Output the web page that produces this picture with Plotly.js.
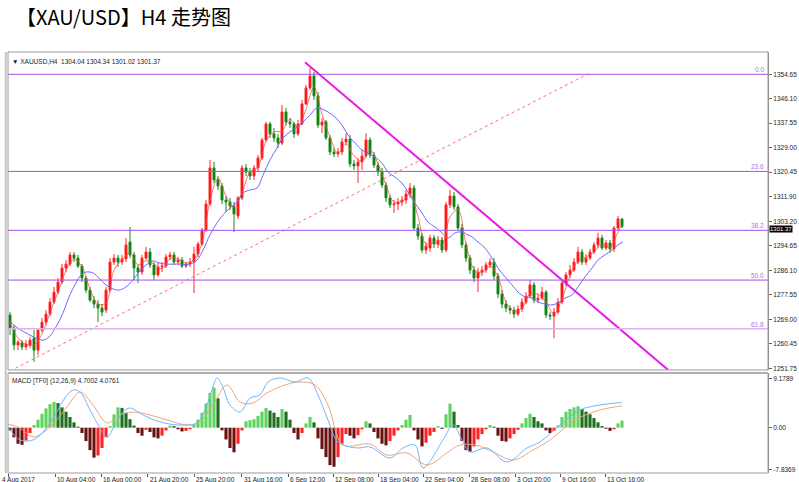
<!DOCTYPE html>
<html><head><meta charset="utf-8">
<script src="https://cdn.plot.ly/plotly-3.0.1.min.js"></script>
<style>html,body{margin:0;padding:0;background:#fff;} #chart{width:799px;height:482px;}</style>
</head><body><div id="chart"></div>
<script>
// ---- H4 candles (each drawn bar ~ one read-off slot of the reference) ----
const opens = [1270.5,1265.9,1260.0,1260.7,1259.3,1260.0,1262.4,1258.2,1265.2,1268.0,1270.8,1275.0,1278.5,1282.0,1286.9,1288.3,1291.5,1290.4,1287.6,1283.4,1279.2,1275.7,1274.3,1272.9,1272.2,1279.2,1289.0,1290.4,1289.0,1290.1,1296.0,1291.5,1286.9,1285.5,1290.4,1292.5,1288.0,1284.5,1287.3,1287.6,1290.8,1291.5,1289.0,1289.7,1287.6,1288.3,1289.0,1291.8,1295.3,1300.2,1309.3,1321.9,1317.7,1315.6,1310.7,1310.0,1308.6,1305.1,1311.4,1321.9,1320.5,1319.1,1321.9,1325.4,1331.7,1337.3,1333.8,1332.4,1330.6,1341.5,1338.0,1337.3,1333.8,1337.3,1344.3,1349.9,1354.1,1347.1,1336.9,1338.0,1332.4,1327.5,1326.8,1327.5,1331.0,1332.0,1323.3,1322.6,1324.0,1326.1,1331.7,1326.4,1322.9,1320.5,1315.9,1311.4,1309.0,1309.3,1310.0,1310.7,1312.8,1314.9,1300.9,1298.1,1293.2,1293.9,1297.4,1295.3,1296.7,1293.2,1309.0,1312.1,1308.3,1300.9,1295.0,1290.4,1286.2,1283.4,1285.5,1286.2,1288.0,1289.0,1284.1,1277.8,1274.3,1272.9,1272.2,1270.8,1272.6,1275.0,1277.1,1281.0,1275.7,1276.4,1278.5,1270.5,1270.1,1271.5,1275.0,1281.7,1284.5,1286.2,1289.0,1292.5,1289.0,1290.4,1292.5,1295.0,1297.4,1293.9,1295.7,1293.6,1300.9,1304.04];
const highs = [1271.5,1267.0,1261.7,1261.7,1261.7,1262.8,1265.2,1265.9,1269.4,1272.2,1276.4,1280.3,1283.4,1288.3,1289.7,1292.5,1292.5,1291.5,1288.3,1284.1,1280.3,1277.1,1275.7,1274.3,1280.3,1290.4,1291.8,1291.5,1291.5,1297.4,1301.3,1292.5,1288.0,1291.5,1294.3,1293.9,1289.0,1288.7,1289.0,1291.8,1292.5,1292.5,1290.8,1290.8,1289.0,1290.4,1294.3,1296.0,1300.9,1310.7,1324.7,1324.0,1319.1,1316.6,1312.1,1311.4,1310.0,1312.1,1322.9,1323.3,1321.9,1322.9,1326.4,1332.4,1338.0,1338.0,1335.9,1333.8,1343.9,1342.9,1339.4,1338.0,1338.7,1345.7,1350.9,1356.9,1355.5,1348.5,1339.4,1338.7,1333.4,1328.9,1328.9,1332.4,1334.1,1333.4,1324.7,1325.4,1328.2,1334.1,1332.7,1327.5,1324.0,1321.9,1317.0,1312.4,1310.7,1311.4,1312.1,1314.2,1316.6,1315.9,1302.3,1299.2,1296.0,1298.5,1298.5,1298.1,1297.8,1310.0,1314.2,1313.5,1309.3,1302.3,1296.0,1291.5,1287.6,1286.9,1287.6,1289.0,1290.4,1290.4,1285.2,1279.2,1275.7,1273.9,1273.3,1273.9,1276.4,1278.5,1282.7,1282.0,1277.8,1280.3,1279.2,1271.5,1272.9,1276.4,1282.7,1285.5,1288.0,1290.4,1294.3,1293.6,1291.8,1293.6,1296.0,1299.2,1298.5,1296.7,1296.7,1301.6,1305.1,1304.34];
const lows = [1263.5,1258.2,1258.2,1258.2,1258.2,1258.9,1254.1,1256.5,1264.5,1267.0,1270.1,1274.3,1277.8,1281.3,1285.5,1287.6,1289.0,1286.9,1282.0,1278.2,1275.0,1272.9,1268.0,1270.1,1271.2,1278.5,1288.0,1287.3,1288.0,1289.0,1290.4,1282.7,1281.7,1284.5,1289.7,1286.9,1282.7,1283.8,1285.5,1286.9,1289.7,1288.0,1288.0,1286.9,1286.9,1287.3,1278.2,1290.8,1294.6,1299.5,1308.6,1316.6,1314.2,1309.3,1306.5,1307.2,1299.5,1304.1,1310.7,1319.1,1317.7,1317.7,1320.5,1324.7,1331.0,1332.4,1331.0,1328.9,1329.9,1336.9,1335.9,1332.4,1333.1,1336.9,1343.9,1349.2,1345.7,1335.9,1334.1,1331.7,1326.4,1325.7,1325.7,1326.4,1329.9,1322.2,1321.2,1316.6,1321.2,1325.4,1325.4,1321.9,1319.1,1314.9,1310.0,1307.9,1306.2,1307.2,1308.6,1309.3,1311.4,1300.2,1296.7,1292.2,1291.8,1292.5,1293.9,1293.9,1292.2,1292.5,1307.9,1307.2,1300.2,1293.9,1289.0,1284.8,1282.0,1278.5,1284.1,1285.2,1286.9,1282.7,1276.4,1272.9,1271.5,1270.8,1269.4,1270.1,1271.5,1274.3,1276.4,1274.6,1274.6,1275.7,1269.4,1268.7,1262.4,1270.8,1274.3,1280.6,1283.4,1285.5,1288.3,1288.0,1288.0,1289.7,1291.8,1293.9,1293.2,1293.2,1292.2,1292.5,1300.2,1301.02];
const closes = [1265.9,1260.0,1261.0,1259.3,1260.3,1261.7,1258.2,1265.2,1268.0,1270.8,1275.0,1278.5,1282.0,1286.9,1288.3,1291.5,1290.4,1287.6,1283.4,1279.2,1275.7,1274.3,1272.9,1271.5,1279.2,1289.0,1290.4,1289.0,1290.1,1295.0,1291.5,1286.9,1285.5,1290.4,1292.5,1288.0,1284.5,1287.3,1287.6,1290.8,1291.5,1289.0,1289.7,1287.6,1288.3,1289.0,1291.8,1295.3,1300.2,1309.3,1321.9,1317.7,1315.6,1310.7,1310.0,1308.6,1305.8,1311.4,1321.9,1320.5,1319.1,1321.9,1325.4,1331.7,1337.3,1333.8,1332.4,1330.6,1341.5,1338.0,1337.3,1333.8,1337.3,1344.3,1349.9,1354.1,1347.1,1336.9,1338.0,1332.4,1327.5,1326.8,1327.5,1331.0,1332.0,1323.3,1322.6,1324.0,1326.1,1331.7,1326.4,1322.9,1320.5,1315.9,1311.4,1309.0,1309.3,1310.0,1310.7,1312.8,1314.9,1300.9,1298.1,1293.2,1294.6,1297.4,1295.3,1296.7,1293.2,1309.0,1312.1,1308.3,1300.9,1295.0,1290.4,1286.2,1283.4,1285.5,1286.2,1288.0,1289.0,1284.1,1277.8,1274.3,1272.9,1272.2,1270.8,1272.6,1275.0,1277.1,1281.0,1275.7,1276.4,1278.5,1270.5,1270.1,1271.5,1275.0,1281.7,1284.5,1286.2,1289.0,1292.5,1289.0,1290.4,1292.5,1295.0,1297.4,1293.9,1295.7,1293.6,1300.9,1304.1,1301.37];

// fast moving average (red)
const fastMaX = [0,2,4,6,8,10,12,14,16,18,20,22,24,26,28,30,32,34,36,38,40,42,44,46,48,50,52,54,56,58,60,62,64,66,68,70,72,74,76,78,80,82,84,86,88,90,92,94,96,98,100,102,104,106,108,110,112,114,116,118,120,122,124,126,128,130,132,134,136,138,140,142,144,146,148,150,152,153];
const fastMaY = [1268.0,1262.4,1260.3,1260.0,1263.8,1271.2,1278.5,1285.9,1290.1,1287.3,1279.6,1274.3,1274.7,1286.2,1289.7,1292.2,1288.0,1289.4,1288.3,1286.6,1290.1,1290.1,1288.7,1289.7,1295.7,1310.4,1318.4,1312.1,1308.3,1313.2,1320.5,1322.2,1331.3,1334.5,1334.8,1339.0,1336.2,1342.5,1350.2,1340.8,1332.7,1327.1,1330.3,1326.1,1324.3,1328.2,1323.3,1315.9,1310.0,1310.0,1312.8,1304.8,1295.3,1295.7,1295.0,1304.8,1307.2,1295.3,1286.6,1285.2,1287.6,1283.8,1275.0,1271.9,1272.9,1277.8,1277.8,1275.0,1270.8,1276.1,1284.1,1289.4,1290.8,1292.5,1295.3,1294.3,1299.5,1302.0];
// slow moving average (blue)
const slowMaX = [0,1.5,4,6.5,8.25,9.75,11.5,13.25,14.75,16.5,17.75,19,20.75,22.25,24,25.75,27.25,29,30.75,32.25,34,35.75,37.25,39,42.5,45,46.75,48.25,50,51.75,53.25,55,56.75,58.25,60,61.75,63.25,65,66.75,68.25,70,71.75,73.25,75,76.75,78,79.5,81.25,83,84.5,86.25,88,89.5,91.25,93,94.5,96.25,98,99.5,101.25,103,104.5,106.25,108,109.5,111.25,113,114.5,115.5,117,118.75,120.5,122,123.75,125.5,127,128.75,130.5,132,133.75,135.5,137,138.75,140.5,142,143.75,145.5,147,148.75,150.5,152,153.25];
const slowMaY = [1268.4,1266.3,1264.2,1262.4,1261.7,1262.8,1266.3,1271.2,1276.8,1281.7,1284.5,1285.5,1285.2,1283.4,1281.0,1279.6,1279.2,1280.3,1282.7,1285.5,1288.0,1289.4,1288.7,1288.3,1288.3,1288.3,1289.7,1293.2,1298.5,1302.7,1305.5,1307.9,1310.0,1313.2,1314.2,1314.9,1319.4,1324.7,1328.9,1332.4,1334.5,1336.2,1338.0,1340.4,1342.9,1342.5,1341.5,1339.7,1336.9,1333.4,1330.6,1328.2,1327.1,1325.7,1323.6,1320.5,1318.7,1316.6,1313.5,1309.6,1306.2,1303.0,1301.3,1299.2,1297.4,1299.2,1299.5,1298.5,1297.8,1296.0,1293.9,1290.4,1286.9,1283.8,1281.0,1278.5,1276.8,1276.4,1275.0,1274.3,1274.0,1274.7,1276.4,1277.5,1280.3,1283.8,1286.9,1289.7,1291.5,1293.2,1295.0,1296.0];

// Fibonacci levels and labels
const fibLevels = [1354.65,1320.7,1300.1,1282.7,1265.7];
const fibLabels = ["0.0","23.6","38.2","50.0","61.8"];
// trend lines [start,end] in (bar, price)
const downTrendX = [73.75,164.5], downTrendY = [1358.9,1251.3];
const upTrendX = [0,144.5], upTrendY = [1250.9,1354.8];

// MACD(12,26,9)
const macdHist = [-0.5,-1.8,-3.0,-3.2,-2.4,-1.0,0.5,1.5,2.6,3.6,4.4,4.8,4.6,3.8,3.0,2.0,1.0,0.2,-1.0,-2.5,-4.2,-5.6,-5.2,-3.8,-1.8,0.3,2.5,3.8,3.7,2.8,1.6,0.4,-1.0,-1.5,-0.4,-0.8,-1.8,-2.0,-1.5,-0.5,0.4,0.3,-0.3,-0.7,-0.6,-0.3,0.5,1.5,2.8,4.5,6.5,7.5,5.5,-0.5,-2.2,-3.8,-4.6,-3.0,-0.5,1.2,1.4,1.6,2.2,3.0,3.7,3.2,2.8,2.0,3.5,3.0,1.5,-1.0,-2.2,-1.0,0.8,2.0,1.0,-2.0,-4.0,-5.5,-7.0,-7.3,-5.5,-3.0,-1.2,-1.5,-2.0,-1.4,-0.3,1.2,0.8,-0.8,-2.0,-3.0,-3.3,-2.5,-1.5,-0.5,0.5,1.5,2.4,-0.5,-2.2,-3.5,-2.8,-1.5,-0.8,0.3,-0.2,2.5,4.5,3.0,0.5,-2.5,-4.2,-4.5,-3.5,-2.2,-1.2,-0.3,0.5,0.2,-1.5,-2.5,-2.6,-2.0,-1.2,-0.4,0.8,1.8,2.6,2.0,1.2,0.8,-0.5,-1.0,-0.6,0.4,2.0,3.0,3.5,3.8,4.0,3.5,3.0,2.5,1.8,1.0,0.3,-0.2,-0.6,-0.3,0.8,1.3];
const macdLineX = [-0.5,2.5,5.75,8.75,11.25,13.75,15.75,17.5,20,22.5,24.25,26.25,28.25,30,33.25,37.5,42.5,46.75,48.75,50.5,51.75,53,55,57.5,60,62.5,64.5,67.5,71.25,74.5,77,79.5,82,86.75,90,95,98.25,101.25,103.25,108.25,110.75,113,115,119.25,124.25,129.25,132.5,137.5,142.5,147.5,153];
const macdLineY = [0.13,-2.3,-2.3,-0.43,2.37,5.55,7.05,6.67,3.31,-0.06,-1.74,0.5,2.93,3.68,2.37,1.07,0.5,0.88,3.31,7.05,9.29,7.98,4.24,2.93,5.55,6.11,8.54,9.29,8.54,9.29,6.11,1.44,-2.67,-3.79,-3.6,-5.66,-3.79,-3.23,-7.53,-2.3,0.5,-2.3,-4.54,-3.79,-6.41,-3.79,-2.67,0.5,3.31,4.24,4.70];
const signalX = [-0.5,2.5,5.75,10,14.25,17.5,20.75,24.25,27.5,30.75,35,39.25,44.25,47.5,50.75,54.25,57.5,60.75,64.25,68.75,72.5,76.25,79.5,83.25,90,94.25,99.25,104.25,109.25,112.5,116.25,120.75,125.75,130.75,135,141.25,147.5,153];
const signalY = [0.69,-0.06,-1.74,0.13,3.87,6.67,4.24,0.88,2.37,2.93,2.37,1.44,0.5,1.07,4.24,7.98,4.8,4.62,6.49,7.98,8.54,7.98,4.24,-3.23,-3.05,-5.1,-4.73,-6.97,-4.73,-3.23,-3.23,-4.54,-6.04,-4.17,-2.3,1.44,3.31,4.08];

// axis labels
const priceTicks = [1354.65,1346.10,1337.55,1329.00,1320.45,1311.90,1303.20,1294.65,1286.10,1277.55,1269.00,1260.45,1251.75];
const macdTicks = [9.1789,0,-7.8369];
const macdTickText = ["9.1789","0.00","-7.8369"];
const timePos = [-0.4,11.25,22.75,34.4,46.1,57.9,69.6,80.8,92.1,103.3,114.8,126.25,137.5,148.75];
const timeLabels = ["4 Aug 2017","10 Aug 04:00","16 Aug 00:00","21 Aug 20:00","25 Aug 20:00","31 Aug 16:00","6 Sep 12:00","12 Sep 08:00","18 Sep 04:00","22 Sep 04:00","28 Sep 08:00","3 Oct 20:00","9 Oct 16:00","13 Oct 16:00"];
const lastPrice = 1301.37;

const barIdx = closes.map((_, i) => i);
const histColors = macdHist.map((v, i) => {
  const prev = i > 0 ? macdHist[i-1] : v;
  if (v >= 0) return v >= prev ? '#5fd35f' : '#1f6e1f';
  return v <= prev ? '#6a1212' : '#ff2222';
});

const F = 'Liberation Sans, Arial, sans-serif';
const traces = [
  {type:'scatter', mode:'lines', x:upTrendX, y:upTrendY, xaxis:'x', yaxis:'y',
   line:{color:'#ff7070', width:1, dash:'dot'}, hoverinfo:'skip'},
  {type:'candlestick', x:barIdx, open:opens, high:highs, low:lows, close:closes, xaxis:'x', yaxis:'y',
   increasing:{line:{color:'#ff2a2a', width:1}, fillcolor:'#ff0000'},
   decreasing:{line:{color:'#1a8a1a', width:1}, fillcolor:'#007d00'},
   whiskerwidth:0, hoverinfo:'skip'},
  {type:'scatter', mode:'lines', x:fastMaX, y:fastMaY, xaxis:'x', yaxis:'y',
   line:{color:'rgba(255,70,70,0.75)', width:1, shape:'spline'}, hoverinfo:'skip'},
  {type:'scatter', mode:'lines', x:slowMaX, y:slowMaY, xaxis:'x', yaxis:'y',
   line:{color:'#6b6bff', width:1, shape:'spline'}, hoverinfo:'skip'},
  {type:'scatter', mode:'lines', x:downTrendX, y:downTrendY, xaxis:'x', yaxis:'y',
   line:{color:'#e81ee8', width:2}, hoverinfo:'skip'},
  {type:'bar', x:barIdx, y:macdHist, xaxis:'x2', yaxis:'y2', width:0.78,
   marker:{color:histColors, line:{width:0}}, hoverinfo:'skip'},
  {type:'scatter', mode:'lines', x:signalX, y:signalY, xaxis:'x2', yaxis:'y2',
   line:{color:'#f0a57a', width:1, shape:'spline'}, hoverinfo:'skip'},
  {type:'scatter', mode:'lines', x:macdLineX, y:macdLineY, xaxis:'x2', yaxis:'y2',
   line:{color:'#6fb6ff', width:1, shape:'spline'}, hoverinfo:'skip'}
];

const shapes = fibLevels.map((lv, i) => ({type:'line', xref:'paper', x0:0, x1:1, yref:'y', y0:lv, y1:lv,
  line:{color: i === 4 ? '#d9b3f5' : '#a64ef0', width: i === 4 ? 1.5 : 1}}));
shapes.push({type:'rect', xref:'paper', yref:'paper', x0:0, x1:1, y0:0.2447, y1:1, line:{color:'#9a9a9a', width:1}});
shapes.push({type:'rect', xref:'paper', yref:'paper', x0:0, x1:1, y0:0, y1:0.2375, line:{color:'#9a9a9a', width:1}});
shapes.push({type:'line', xref:'paper', yref:'paper', x0:-0.003, x1:-0.003, y0:0, y1:1, line:{color:'#c4c4c4', width:2}});
shapes.push({type:'line', xref:'paper', yref:'paper', x0:0, x1:1, y0:0.2375, y1:0.2375, line:{color:'#b0b0b0', width:2}});

const annotations = [
  {xref:'paper', yref:'paper', x:0.003, y:0.99, xanchor:'left', yanchor:'top', showarrow:false,
   text:'▼ XAUUSD,H4  1304.04 1304.34 1301.02 1301.37', font:{family:F, size:6.5, color:'#222'}},
  {xref:'paper', yref:'paper', x:0.003, y:0.232, xanchor:'left', yanchor:'top', showarrow:false,
   text:'MACD [TF0] (12,26,9) 4.7002 4.0761', font:{family:F, size:6.5, color:'#222'}},
  {xref:'paper', yref:'y', x:1, y:lastPrice, xanchor:'left', yanchor:'middle', showarrow:false, xshift:1, yshift:-2,
   text:'1301.37', bgcolor:'#000', borderpad:0, font:{family:F, size:6, color:'#fff'}}
];
fibLevels.forEach((lv, i) => annotations.push({xref:'paper', yref:'y', x:0.998, y:lv, xanchor:'right', yanchor:'bottom',
  showarrow:false, text:fibLabels[i], yshift:-1, font:{family:F, size:6.5, color:'#b070f0'}}));
timeLabels.forEach((t, i) => {
  if (i === 0) {
    annotations.push({xref:'paper', yref:'paper', x:0, xshift:-8, y:0, yshift:-1, xanchor:'left', yanchor:'top',
      showarrow:false, text:t, font:{family:F, size:6.5, color:'#222'}});
  } else {
    annotations.push({xref:'x2', yref:'paper', x:timePos[i], y:0, yshift:-1, xanchor:'left', yanchor:'top',
      showarrow:false, text:t, font:{family:F, size:6.5, color:'#222'}});
  }
});

const layout = {
  width:799, height:482, paper_bgcolor:'#fff', plot_bgcolor:'#fff', showlegend:false,
  margin:{l:8, r:31, t:52, b:9},
  title:{text:'【XAU/USD】H4 走势图', x:0.02, xanchor:'left', y:0.963, yanchor:'middle',
         font:{family:'Noto Sans CJK SC, sans-serif', size:20, color:'#000'}},
  xaxis:{domain:[0,1], anchor:'y', range:[-0.5,189.5], showticklabels:false, showgrid:false, zeroline:false,
         rangeslider:{visible:false}, ticks:''},
  yaxis:{domain:[0.2447,1], anchor:'x', side:'right', range:[1251.26,1362.45], tickvals:priceTicks,
         ticktext:priceTicks.map(v => v.toFixed(2)), ticks:'outside', ticklen:3, tickcolor:'#666',
         showgrid:false, zeroline:false, showline:true, linecolor:'#8a8a8a',
         tickfont:{family:F, size:6.5, color:'#222'}},
  xaxis2:{domain:[0,1], anchor:'y2', matches:'x', range:[-0.5,189.5], showticklabels:false, showgrid:false,
          zeroline:false, tickvals:timePos, ticks:'outside', ticklen:3, tickcolor:'#555'},
  yaxis2:{domain:[0,0.2375], anchor:'x2', side:'right', range:[-8.47,10.22], tickvals:macdTicks, ticktext:macdTickText,
          ticks:'outside', ticklen:3, tickcolor:'#666', showgrid:false, zeroline:false, showline:true, linecolor:'#8a8a8a',
          tickfont:{family:F, size:6.5, color:'#222'}},
  bargap:0.2, shapes:shapes, annotations:annotations
};

Plotly.newPlot('chart', traces, layout, {staticPlot:true, displayModeBar:false});
</script>
</body></html>
